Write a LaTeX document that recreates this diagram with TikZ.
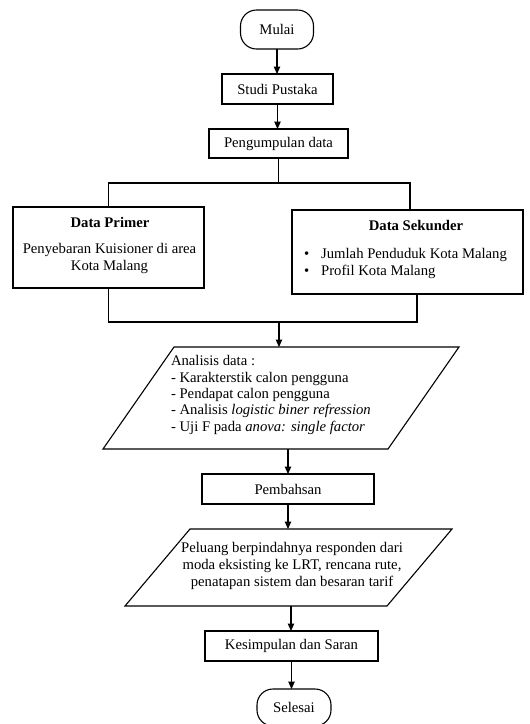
\documentclass[tikz,border=0pt]{standalone}
\usepackage{fontspec}
\setmainfont{Liberation Serif}
\usetikzlibrary{arrows.meta,calc}
\begin{document}
\begin{tikzpicture}[x=1pt,y=-1pt,
  font=\fontsize{14.7}{17}\selectfont,
  every node/.style={inner sep=0pt, outer sep=0pt},
  box/.style={draw, line width=1.1pt, rectangle},
  term/.style={draw, line width=1.1pt, rounded corners=16pt},
  ln/.style={line width=1.1pt},
  arr/.style={ln, -{Triangle[length=7.5pt,width=6.5pt]}}]
\useasboundingbox (0,0) rectangle (530,724);

% terminators and boxes
\node[term, minimum width=73pt, minimum height=39pt] (mulai) at (277,29.5) {Mulai};
\node[box, minimum width=111pt, minimum height=30pt] (studi) at (277.5,89) {Studi Pustaka};
\node[box, minimum width=139pt, minimum height=29pt] (peng) at (278.5,143.5) {Pengumpulan data};

% Data Primer
\node[box, minimum width=191pt, minimum height=81pt] (primer) at (108.5,247.5) {};
\node (primerh) at (110,222) {\textbf{Data Primer}};
\node[align=center] (primert) at (109.5,258.5) {Penyebaran Kuisioner di area\\Kota Malang};

% Data Sekunder
\node[box, minimum width=231pt, minimum height=84pt] (sek) at (407.5,252) {};
\node (sekh) at (416,225) {\textbf{Data Sekunder}};
\node[align=left, anchor=west] (sekt) at (304,263) {\textbullet\hspace{12pt}Jumlah Penduduk Kota Malang\\\textbullet\hspace{12pt}Profil Kota Malang};

% Analisis parallelogram
\coordinate (a1) at (174,347);
\coordinate (a2) at (459,347);
\coordinate (a3) at (388,449);
\coordinate (a4) at (103,449);
\draw[ln] (a1) -- (a2) -- (a3) -- (a4) -- cycle;
\coordinate (antop) at (279,347);
\coordinate (anbot) at (288,449);
\node[align=left, anchor=west, font=\fontsize{14.7}{16.3}\selectfont] (anal) at (171,395)
  {Analisis data :\\- Karakterstik calon pengguna\\- Pendapat calon pengguna\\- Analisis \textit{logistic biner refression}\\- Uji F pada \textit{anova: single factor}};

\node[box, minimum width=172pt, minimum height=30pt] (pemb) at (288,489) {Pembahsan};

% Peluang parallelogram
\coordinate (p1) at (190,529);
\coordinate (p2) at (452,529);
\coordinate (p3) at (387,606);
\coordinate (p4) at (125,606);
\draw[ln] (p1) -- (p2) -- (p3) -- (p4) -- cycle;
\coordinate (pltop) at (288,529);
\coordinate (plbot) at (291,606);
\node[align=center] (pel) at (292,566)
  {Peluang berpindahnya responden dari\\moda eksisting ke LRT, rencana rute,\\penatapan sistem dan besaran tarif};

\node[box, minimum width=173pt, minimum height=30pt] (kes) at (291.5,646) {Kesimpulan dan Saran};
\node[term, minimum width=74pt, minimum height=37pt] (sel) at (294,707.5) {Selesai};

% connectors
\draw[arr] (mulai.south) -- (mulai.south |- studi.north);
\draw[arr] (studi.south) -- (studi.south |- peng.north);
\coordinate (sp) at (278.5,183);
\draw[ln] (peng.south) -- (sp);
\draw[ln] (primer.north) |- (sp) -| ([xshift=2.5pt]sek.north);
\coordinate (mg) at (279,322);
\draw[ln] (primer.south) |- (mg) -| ([xshift=9.5pt]sek.south);
\draw[arr] (mg) -- (antop);
\draw[arr] (anbot) -- (anbot |- pemb.north);
\draw[arr] (pemb.south) -- (pltop);
\draw[arr] (plbot) -- (plbot |- kes.north);
\draw[arr] (kes.south) -- (kes.south |- sel.north);
\end{tikzpicture}
\end{document}
